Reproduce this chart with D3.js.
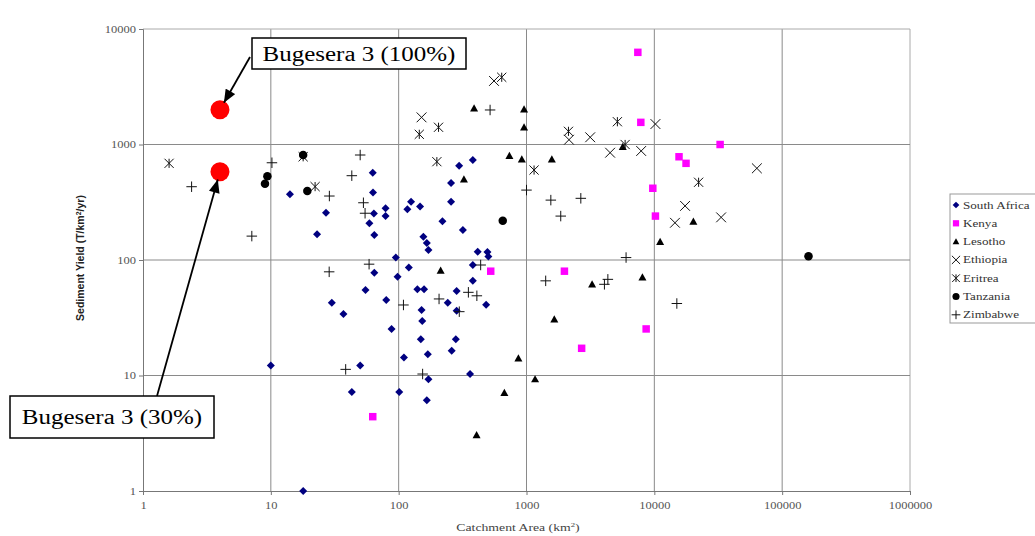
<!DOCTYPE html>
<html>
<head>
<meta charset="utf-8">
<script src="https://cdn.jsdelivr.net/npm/d3@7"></script>
<style>
  body { margin: 0; background: #fff; }
  svg { display: block; }
  text { font-family: "Liberation Serif", "Times New Roman", serif; }
</style>
</head>
<body>
<svg id="chart" width="1035" height="536"></svg>
<script>
// [catchment area km2, sediment yield T/km2/yr]
const southAfrica = [
  [17.9, 1], [10, 12.2], [95, 105], [120, 86], [64.5, 77.6], [98, 71.6], [55, 55], [140, 55.7],
  [158, 55.7], [80, 45], [30, 42.7], [151, 36.9], [37, 34], [153, 29.6], [88, 25.3], [149, 20.6],
  [169, 15.3], [110, 14.3], [50, 12.2], [171, 9.3], [43, 7.2], [101, 7.2], [166, 6.1],
  [284, 54], [242, 42.7], [380, 90.5], [380, 66], [483, 41], [284, 36.4], [280, 20.6], [260, 16.4],
  [362, 10.3], [415, 118], [495, 117], [503, 107], [380, 735], [297, 656], [257, 464], [125, 320],
  [117, 275], [147, 290], [257, 320], [220, 216], [318, 182], [156, 159], [166, 140], [171, 122],
  [14.1, 371], [27, 257], [23, 167], [63, 385], [64, 253], [59, 208], [64.5, 165], [79, 281],
  [79, 240], [62.7, 570]
];
const kenya = [
  [7430, 6280], [7840, 1555], [9730, 418], [10200, 240], [15600, 783], [17700, 687], [32700, 1000],
  [525, 80], [1980, 80], [8630, 25.3], [2700, 17.2], [62.7, 4.4]
];
const lesotho = [
  [389, 2057], [957, 2020], [957, 1410], [735, 800], [919, 745], [1578, 745], [324, 500], [5660, 957],
  [11100, 144], [20200, 215], [213, 81], [8070, 71], [3260, 61.6], [1650, 30.7], [864, 14.1],
  [1167, 9.3], [671, 7.1], [407, 3.05]
];
const ethiopia = [
  [151, 1718], [557, 3550], [2150, 1100], [3150, 1155], [4510, 849], [7890, 879], [10200, 1504],
  [17400, 294], [14500, 210], [63400, 622], [33300, 234]
];
const eritrea = [
  [1.6, 687], [17.9, 783], [145, 1225], [205, 1410], [640, 3820], [199, 710], [1146, 601],
  [5140, 1575], [5910, 1000], [2130, 1300], [22200, 471], [22.2, 432]
];
const tanzania = [
  [9.4, 530], [9.0, 458], [19.3, 396], [17.9, 811], [652, 219], [160700, 108]
];
const zimbabwe = [
  [10.2, 695], [2.4, 431], [7.1, 161], [50, 811], [43, 537], [28.7, 358], [53, 313], [54.6, 254],
  [28.6, 79], [58.7, 92], [109, 40.8], [38.5, 11.3], [154, 10.3], [438, 90.5], [207, 46], [351, 52.5],
  [409, 49], [298, 35.7], [1413, 66], [4330, 68], [4070, 61.6], [6010, 105], [15000, 42],
  [519, 1990], [1000, 403], [1550, 330], [2660, 342], [1853, 240]
];
const bugesera = [[4, 2000], [4, 580]];
const bugeseraLabels = ["Bugesera 3 (100%)", "Bugesera 3 (30%)"];

const xTicks = [1, 10, 100, 1000, 10000, 100000, 1000000];
const yTicks = [1, 10, 100, 1000, 10000];

// the scanned figure is a bit wider than tall, so text gets a horizontal stretch
const STRETCH = 1.25;

// custom marker shapes, r = half the size
function shape(fn) {
  return { draw: (ctx, size) => fn(ctx, Math.sqrt(size) / 2) };
}
const diamond = shape((c, r) => { c.moveTo(0, -r); c.lineTo(r, 0); c.lineTo(0, r); c.lineTo(-r, 0); c.closePath(); });
const square = shape((c, r) => { c.rect(-r, -r, 2 * r, 2 * r); });
const triangle = shape((c, r) => { c.moveTo(0, -r); c.lineTo(r, r * 0.8); c.lineTo(-r, r * 0.8); c.closePath(); });
const cross = shape((c, r) => { c.moveTo(-r, -r); c.lineTo(r, r); c.moveTo(-r, r); c.lineTo(r, -r); });
const star = shape((c, r) => { c.moveTo(-r, -r); c.lineTo(r, r); c.moveTo(-r, r); c.lineTo(r, -r); c.moveTo(0, -r); c.lineTo(0, r); });
const circle = shape((c, r) => { c.moveTo(r, 0); c.arc(0, 0, r, 0, 2 * Math.PI); });
const plus = shape((c, r) => { c.moveTo(-r, 0); c.lineTo(r, 0); c.moveTo(0, -r); c.lineTo(0, r); });

const series = [
  { name: "South Africa", data: southAfrica, type: diamond, size: 64, fill: "#000080", stroke: null },
  { name: "Kenya", data: kenya, type: square, size: 56, fill: "#ff00ff", stroke: null },
  { name: "Lesotho", data: lesotho, type: triangle, size: 64, fill: "#000", stroke: null },
  { name: "Ethiopia", data: ethiopia, type: cross, size: 96, fill: "none", stroke: "#111" },
  { name: "Eritrea", data: eritrea, type: star, size: 84, fill: "none", stroke: "#111" },
  { name: "Tanzania", data: tanzania, type: circle, size: 72, fill: "#000", stroke: null },
  { name: "Zimbabwe", data: zimbabwe, type: plus, size: 110, fill: "none", stroke: "#111" }
];

const svg = d3.select("#chart");
const plotLeft = 143, plotRight = 910, plotTop = 29, plotBottom = 491;

const x = d3.scaleLog().domain([1, 1e6]).range([plotLeft, plotRight]);
const y = d3.scaleLog().domain([1, 1e4]).range([plotBottom, plotTop]);

// grid
svg.append("g").selectAll("line").data(xTicks.slice(1)).enter().append("line")
  .attr("x1", d => x(d)).attr("x2", d => x(d)).attr("y1", plotTop).attr("y2", plotBottom)
  .attr("stroke", d => d == 1e6 ? "#aaa" : "#8a8a8a").attr("stroke-width", 1);
svg.append("g").selectAll("line").data(yTicks.slice(1)).enter().append("line")
  .attr("x1", plotLeft).attr("x2", plotRight).attr("y1", d => y(d)).attr("y2", d => y(d))
  .attr("stroke", d => d == 1e4 ? "#aaa" : "#8a8a8a").attr("stroke-width", 1);

// axes
const xAxis = svg.append("g").attr("transform", `translate(0,${plotBottom})`)
  .call(d3.axisBottom(x).tickValues(xTicks).tickFormat(d3.format("d")).tickSize(4).tickPadding(7));
const yAxis = svg.append("g").attr("transform", `translate(${plotLeft},0)`)
  .call(d3.axisLeft(y).tickValues(yTicks).tickFormat(d3.format("d")).tickSize(4).tickPadding(3));
[xAxis, yAxis].forEach(a => {
  a.select(".domain").attr("stroke", "#777");
  a.selectAll(".tick line").attr("stroke", "#777");
  a.selectAll(".tick text").attr("fill", "#555")
    .style("font-family", "'Liberation Serif', serif").style("font-size", "10px");
});
// stretch tick labels sideways around their anchor
xAxis.selectAll(".tick text").attr("transform", `scale(${STRETCH},1)`);
yAxis.selectAll(".tick text")
  .attr("transform", function() { const tx = +this.getAttribute("x"); return `translate(${tx},0) scale(${STRETCH},1) translate(${-tx},0)`; });

// axis titles
svg.append("text")
  .attr("transform", "translate(84,258) rotate(-90)")
  .attr("text-anchor", "middle")
  .style("font-family", "'Liberation Sans', Arial, sans-serif")
  .style("font-weight", "bold").style("font-size", "10.5px").attr("fill", "#222")
  .html('Sediment Yield (T/km<tspan dy="-3" font-size="7px">2</tspan><tspan dy="3">/yr)</tspan>');
svg.append("text")
  .attr("transform", `translate(518,531) scale(${STRETCH},1)`)
  .attr("text-anchor", "middle")
  .style("font-size", "11px").attr("fill", "#444")
  .html('Catchment Area (km<tspan dy="-4" font-size="7px">2</tspan><tspan dy="4">)</tspan>');

// points
series.forEach(s => {
  const sym = d3.symbol().type(s.type).size(s.size);
  svg.append("g").selectAll("path").data(s.data).enter().append("path")
    .attr("d", sym)
    .attr("transform", d => `translate(${x(d[0])},${y(d[1])})`)
    .attr("fill", s.fill)
    .attr("stroke", s.stroke || "none")
    .attr("stroke-width", 1);
});

// legend
const lg = svg.append("g").attr("transform", "translate(950,194)");
lg.append("rect").attr("x", 0).attr("y", 0).attr("width", 100).attr("height", 129)
  .attr("fill", "#fff").attr("stroke", "#999");
series.forEach((s, i) => {
  const row = lg.append("g").attr("transform", `translate(6,${11 + i * 18.3})`);
  row.append("path").attr("d", d3.symbol().type(s.type).size(s.size * 0.7))
    .attr("fill", s.fill).attr("stroke", s.stroke || "none");
  row.append("text").attr("transform", `translate(7,3.5) scale(${STRETCH},1)`)
    .style("font-size", "10.5px").attr("fill", "#333").text(s.name);
});

// Bugesera points
svg.append("g").selectAll("circle").data(bugesera).enter().append("circle")
  .attr("cx", d => x(d[0])).attr("cy", d => y(d[1])).attr("r", 9.5).attr("fill", "#ff0000");

// callouts
svg.append("defs").append("marker")
  .attr("id", "head").attr("viewBox", "0 0 12 10").attr("refX", 12).attr("refY", 5)
  .attr("markerWidth", 14).attr("markerHeight", 11).attr("markerUnits", "userSpaceOnUse")
  .attr("orient", "auto")
  .append("path").attr("d", "M0,0L12,5L0,10Z").attr("fill", "#000");

const boxes = [
  { x: 252, y: 38, w: 214, h: 31, base: 61, from: [250, 57] },
  { x: 10, y: 396, w: 204, h: 42, base: 424, from: [157, 396] }
];
boxes.forEach((b, i) => {
  const px = x(bugesera[i][0]), py = y(bugesera[i][1]);
  const dx = b.from[0] - px, dy = b.from[1] - py, len = Math.hypot(dx, dy);
  svg.append("line")
    .attr("x1", b.from[0]).attr("y1", b.from[1])
    .attr("x2", px + dx / len * 8).attr("y2", py + dy / len * 8)
    .attr("stroke", "#000").attr("stroke-width", 1.8).attr("marker-end", "url(#head)");
  svg.append("rect").attr("x", b.x).attr("y", b.y).attr("width", b.w).attr("height", b.h)
    .attr("fill", "#fff").attr("stroke", "#000").attr("stroke-width", 1.5);
  svg.append("text").attr("transform", `translate(${b.x + b.w / 2},${b.base}) scale(${STRETCH},1)`)
    .attr("text-anchor", "middle").style("font-size", "20px").attr("fill", "#000")
    .text(bugeseraLabels[i]);
});
</script>
</body>
</html>
